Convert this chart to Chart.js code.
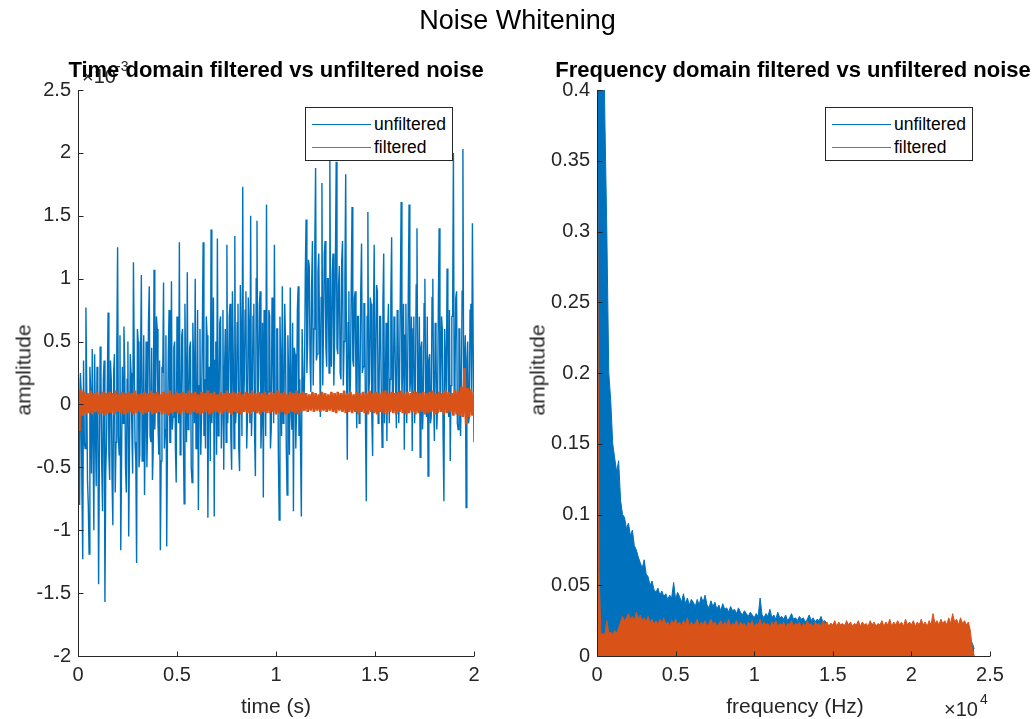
<!DOCTYPE html>
<html lang="en">
<head>
<meta charset="UTF-8">
<title>Noise Whitening</title>
<script src="https://cdn.jsdelivr.net/npm/chart.js"></script>
<style>
  body { margin: 0; background: #fff; font-family: 'Liberation Sans', Arial, sans-serif; }
  #wrap { position: relative; width: 1035px; height: 719px; overflow: hidden; background: #fff; }
  canvas { position: absolute; left: 0; top: 0; }
  .txt { position: absolute; white-space: nowrap; line-height: 1; color: #262626; }
  .ttl { position: absolute; white-space: nowrap; line-height: 1; color: #000; font-weight: bold; font-size: 22px; transform: translateX(-50%); }
  .ylab { position: absolute; white-space: nowrap; line-height: 1; color: #262626; font-size: 21px; transform: translate(-50%, -50%) rotate(-90deg); }
  .xlab { position: absolute; white-space: nowrap; line-height: 1; color: #262626; font-size: 21px; transform: translateX(-50%); }
  .legend { position: absolute; width: 148px; height: 54px; border: 1px solid #262626; box-sizing: border-box; background: #fff; }
  .legend .ln { position: absolute; left: 6px; width: 59px; height: 0; border-top: 1.5px solid; }
  .legend .lt { position: absolute; left: 68px; font-size: 17.5px; line-height: 20px; color: #000; }
</style>
</head>
<body>
<div id="wrap">
  <canvas id="timeChart" width="1035" height="719"></canvas>
  <canvas id="freqChart" width="1035" height="719"></canvas>

  <div class="txt" style="left:0;width:1035px;text-align:center;top:7px;font-size:27px;color:#000;">Noise Whitening</div>

  <!-- exponent labels (drawn under the subplot title) -->
  <div class="txt" style="left:82px;top:66px;font-size:20px;">&times;10</div>
  <div class="txt" style="left:116px;top:59px;font-size:14px;">-3</div>
  <div class="txt" style="left:944px;top:699px;font-size:20px;">&times;10</div>
  <div class="txt" style="left:980px;top:692px;font-size:14px;">4</div>

  <div class="ttl" style="left:276px;top:59px;">Time domain filtered vs unfiltered noise</div>
  <div class="ttl" style="left:793px;top:59px;">Frequency domain filtered vs unfiltered noise</div>

  <div class="ylab" style="left:23px;top:370px;">amplitude</div>
  <div class="ylab" style="left:537px;top:370px;">amplitude</div>
  <div class="xlab" style="left:276px;top:695px;">time (s)</div>
  <div class="xlab" style="left:795px;top:695px;">frequency (Hz)</div>

  <div class="legend" style="left:305px;top:107px;">
    <div class="ln" style="top:16px;border-color:#0072BD;"></div>
    <div class="lt" style="top:6px;">unfiltered</div>
    <div class="ln" style="top:39px;border-color:#D95319;"></div>
    <div class="lt" style="top:29px;">filtered</div>
  </div>
  <div class="legend" style="left:825px;top:107px;">
    <div class="ln" style="top:16px;border-color:#0072BD;"></div>
    <div class="lt" style="top:6px;">unfiltered</div>
    <div class="ln" style="top:39px;border-color:#D95319;"></div>
    <div class="lt" style="top:29px;">filtered</div>
  </div>
</div>

<script>
  // sampling grids
  const timeStep = 0.008;   // s between samples of the main series
  const freqStep = 125;     // Hz between bins

  // time domain, amplitude in units of 1e-3 (peaks / troughs)
  const unfilteredTime = [
    -0.2,-0.8,0.1,-1.23,-0.3,0.77,-0.6,-1.19,0.1,0.44,-1.0,-0.2,0.3,-1.43,0.46,-0.5,0.2,-1.57,-0.3,0.73,
    -0.6,0.2,-0.96,0.4,-0.3,1.25,-0.4,-1.16,0.3,0.62,-0.5,0.2,-1.05,0.4,-0.2,1.13,-0.3,-1.26,0.5,-0.4,
    1.03,-0.2,-0.72,0.5,-0.1,0.94,-0.3,-0.6,1.07,0.1,0.6,-0.4,-1.16,0.3,0.97,-0.2,-1.13,0.4,-0.3,0.98,
    -0.1,0.5,-0.62,0.3,1.29,-0.2,0.6,-0.79,0.2,1.05,-0.1,0.5,-0.62,0.3,1.0,-0.2,-0.84,0.6,-0.1,1.29,
    0.2,0.7,-0.9,0.3,1.39,0.1,-0.89,0.5,1.32,-0.1,0.7,0.0,-0.52,0.6,1.27,0.1,0.8,-0.52,0.4,1.34,
    0.0,0.8,-0.53,0.5,1.73,0.2,0.9,-0.1,0.6,1.5,0.0,0.8,-0.57,1.46,0.2,0.9,-0.1,-0.74,0.5,1.59,
    0.1,0.7,-0.2,0.5,1.27,0.0,0.6,-0.92,0.3,0.94,-0.1,0.5,-0.72,0.2,0.93,-0.2,-0.85,0.4,0.0,0.94,
    0.2,-0.89,0.6,0.2,1.47,0.5,1.1,0.1,1.3,0.6,1.88,0.4,1.2,-0.1,1.76,0.6,1.3,0.3,1.0,1.95,
    0.3,1.2,0.5,1.93,0.4,1.1,0.2,1.3,0.5,1.83,-0.44,0.9,0.2,1.57,0.3,0.9,-0.19,0.7,0.1,1.28,
    0.3,0.8,-0.77,1.53,0.2,0.8,-0.41,1.27,0.3,0.9,0.0,0.7,-0.34,1.2,0.1,-0.29,0.8,0.2,1.33,0.0,
    0.6,-0.19,0.7,0.2,1.61,0.3,-0.36,0.8,0.1,1.59,0.2,-0.37,0.7,0.1,1.4,0.0,-0.42,0.5,0.0,1.0,
    -0.1,-0.57,0.4,-0.1,1.0,-0.29,0.5,0.0,1.4,0.1,0.6,-0.77,0.3,1.08,-0.1,-0.45,0.7,2.0,0.2,0.9,
    -0.2,0.6,0.1,2.03,0.3,-0.82,0.5,-0.1,0.8,1.44,-0.3
  ];
  // samples halfway between the ones above (the dense core of the band)
  const unfilteredTimeMid = [
    -0.45,0.25,-0.7,0.35,-0.35,0.15,-0.8,0.3,-0.55,-0.25,0.4,-0.65,0.05,-0.45,0.2,-0.85,0.35,-0.55,0.15,-0.4,
    0.35,-0.6,0.25,-0.7,0.45,-0.25,0.55,-0.45,-0.15,0.3,-0.7,0.5,-0.35,0.25,-0.55,0.4,-0.45,0.6,-0.5,0.35,
    -0.45,0.55,-0.15,-0.5,0.65,-0.25,0.45,-0.35,-0.2,0.7,-0.15,0.35,-0.45,0.25,-0.35,0.55,-0.25,0.75,-0.3,-0.2,
    0.45,-0.35,0.7,-0.15,-0.4,0.55,-0.25,0.8,-0.3,-0.2,0.45,-0.5,0.65,-0.15,-0.35,0.75,0.15,-0.4,0.6,-0.25,
    -0.35,0.55,0.25,-0.45,-0.15,0.85,0.35,-0.4,-0.25,0.65,-0.35,0.75,0.25,-0.3,-0.15,0.7,-0.25,0.9,-0.35,-0.15,
    0.65,-0.35,0.95,-0.25,-0.05,0.75,-0.35,0.85,-0.15,-0.25,0.7,-0.25,1.0,-0.05,0.8,-0.35,0.65,0.75,-0.25,-0.05,
    0.75,-0.35,0.85,-0.15,-0.05,0.6,-0.4,0.7,-0.25,-0.15,0.8,-0.35,0.55,-0.4,-0.05,0.65,0.45,-0.35,0.75,-0.25,
    -0.35,0.6,-0.05,1.05,0.25,1.15,0.35,0.95,0.15,1.25,0.35,1.05,0.55,0.85,0.15,1.2,0.45,1.0,0.25,0.55,
    1.05,0.15,1.1,0.45,0.95,0.25,1.15,0.15,1.0,0.35,0.65,-0.05,0.95,0.35,0.85,0.15,0.7,-0.15,0.9,0.25,
    0.8,-0.15,0.7,0.05,0.85,-0.1,0.65,-0.05,0.95,-0.15,0.7,0.05,0.8,-0.15,0.65,0.55,-0.15,0.85,0.05,0.7,
    0.15,0.75,-0.15,0.9,0.05,0.8,0.55,-0.15,0.85,0.1,0.7,0.6,-0.15,0.95,0.05,0.7,0.45,-0.2,0.8,0.05,
    0.7,0.35,-0.15,0.85,0.05,0.65,-0.2,0.8,0.05,0.7,-0.25,0.6,0.05,0.55,0.75,0.15,0.7,0.05,0.85,-0.15,
    0.6,-0.25,0.9,0.05,0.55,0.35,-0.15,0.75,0.05,0.45
  ];
  const filteredTime = [
    0.21,-0.21,0.12,-0.09,0.1,-0.08,0.09,-0.07,0.11,-0.08,0.09,-0.06,0.1,-0.08,0.08,-0.07,0.1,-0.09,0.09,-0.07,
    0.1,-0.07,0.09,-0.08,0.11,-0.06,0.08,-0.07,0.1,-0.08,0.09,-0.07,0.1,-0.06,0.09,-0.08,0.11,-0.07,0.08,-0.06,
    0.09,-0.08,0.1,-0.07,0.09,-0.06,0.11,-0.08,0.09,-0.07,0.1,-0.06,0.08,-0.08,0.1,-0.07,0.09,-0.09,0.11,-0.07,
    0.08,-0.06,0.1,-0.07,0.09,-0.08,0.1,-0.06,0.09,-0.07,0.11,-0.08,0.09,-0.06,0.1,-0.07,0.08,-0.08,0.1,-0.07,
    0.09,-0.06,0.11,-0.08,0.09,-0.07,0.1,-0.06,0.08,-0.07,0.1,-0.08,0.09,-0.06,0.11,-0.07,0.09,-0.08,0.1,-0.06,
    0.09,-0.07,0.1,-0.08,0.08,-0.06,0.1,-0.07,0.09,-0.08,0.11,-0.06,0.09,-0.07,0.1,-0.08,0.09,-0.06,0.1,-0.07,
    0.08,-0.07,0.1,-0.06,0.09,-0.08,0.11,-0.07,0.09,-0.06,0.1,-0.08,0.08,-0.07,0.1,-0.06,0.09,-0.07,0.11,-0.08,
    0.09,-0.06,0.1,-0.05,0.09,-0.06,0.08,-0.05,0.1,-0.06,0.09,-0.05,0.08,-0.06,0.1,-0.05,0.09,-0.06,0.08,-0.05,
    0.1,-0.06,0.09,-0.07,0.1,-0.05,0.09,-0.06,0.11,-0.07,0.09,-0.06,0.1,-0.07,0.08,-0.06,0.1,-0.08,0.09,-0.06,
    0.1,-0.07,0.09,-0.08,0.11,-0.06,0.09,-0.07,0.1,-0.08,0.09,-0.06,0.1,-0.07,0.11,-0.08,0.09,-0.06,0.1,-0.07,
    0.09,-0.08,0.1,-0.06,0.11,-0.07,0.09,-0.08,0.1,-0.07,0.09,-0.06,0.11,-0.08,0.1,-0.07,0.09,-0.06,0.1,-0.08,
    0.09,-0.07,0.1,-0.06,0.11,-0.08,0.09,-0.07,0.1,-0.06,0.09,-0.08,0.11,-0.07,0.1,-0.06,0.09,-0.09,0.12,-0.08,
    0.1,-0.09,0.14,-0.1,0.29,-0.16,0.13,-0.1,0.12,-0.09,0.1
  ];

  // frequency domain magnitude
  const unfilteredSpectrum = [
    0.46,0.5,0.42,0.48,0.38,0.3,0.2,0.18,0.15,0.14,
    0.13,0.138,0.11,0.1,0.098,0.09,0.094,0.085,0.089,0.078,
    0.075,0.07,0.066,0.062,0.068,0.058,0.056,0.05,0.053,0.047,
    0.045,0.048,0.043,0.046,0.042,0.044,0.04,0.043,0.041,0.052,
    0.04,0.045,0.042,0.038,0.044,0.037,0.041,0.036,0.04,0.038,
    0.035,0.04,0.036,0.042,0.038,0.043,0.036,0.034,0.039,0.035,
    0.038,0.033,0.036,0.032,0.037,0.033,0.034,0.031,0.035,0.032,
    0.033,0.03,0.034,0.031,0.029,0.032,0.03,0.028,0.031,0.029,
    0.027,0.03,0.028,0.041,0.029,0.027,0.03,0.028,0.033,0.027,
    0.029,0.026,0.031,0.027,0.028,0.026,0.029,0.025,0.027,0.03,
    0.026,0.027,0.025,0.028,0.026,0.027,0.024,0.026,0.029,0.025,
    0.027,0.024,0.026,0.025,0.028,0.024,0.025,0.022,0.021,0.023,
    0.021,0.022,0.02,0.023,0.021,0.02,0.022,0.021,0.02,0.021,
    0.02,0.021,0.019,0.02,0.021,0.019,0.02,0.021,0.019,0.02,
    0.02,0.019,0.021,0.02,0.019,0.02,0.021,0.019,0.02,0.019,
    0.021,0.02,0.019,0.02,0.021,0.019,0.02,0.019,0.021,0.02,
    0.019,0.02,0.021,0.019,0.02,0.019,0.021,0.02,0.019,0.02,
    0.021,0.019,0.02,0.019,0.021,0.02,0.019,0.02,0.021,0.019,
    0.02,0.019,0.021,0.02,0.019,0.02,0.021,0.019,0.02,0.018,
    0.012,0.009,0.005
  ];
  const filteredSpectrum = [
    0.45,0.06,0.015,0.016,0.015,0.025,0.016,0.017,0.015,0.018,
    0.016,0.02,0.024,0.028,0.025,0.027,0.03,0.026,0.028,0.025,
    0.031,0.026,0.029,0.025,0.027,0.024,0.028,0.023,0.026,0.022,
    0.025,0.022,0.026,0.023,0.027,0.022,0.024,0.021,0.025,0.023,
    0.026,0.022,0.024,0.021,0.025,0.022,0.027,0.021,0.024,0.022,
    0.023,0.026,0.021,0.024,0.022,0.025,0.021,0.023,0.026,0.022,
    0.024,0.021,0.023,0.025,0.021,0.024,0.022,0.026,0.021,0.023,
    0.022,0.025,0.021,0.024,0.022,0.023,0.020,0.024,0.022,0.025,
    0.021,0.023,0.022,0.026,0.021,0.024,0.022,0.023,0.020,0.024,
    0.022,0.025,0.021,0.023,0.022,0.024,0.020,0.023,0.022,0.025,
    0.021,0.023,0.022,0.024,0.020,0.023,0.021,0.025,0.022,0.023,
    0.020,0.024,0.022,0.023,0.021,0.025,0.022,0.024,0.021,0.023,
    0.022,0.025,0.021,0.024,0.022,0.023,0.021,0.025,0.022,0.024,
    0.021,0.023,0.022,0.025,0.021,0.024,0.022,0.023,0.021,0.025,
    0.022,0.024,0.021,0.023,0.022,0.025,0.021,0.024,0.022,0.026,
    0.021,0.024,0.022,0.025,0.022,0.024,0.021,0.026,0.022,0.024,
    0.022,0.025,0.021,0.024,0.022,0.026,0.022,0.024,0.021,0.025,
    0.022,0.030,0.023,0.025,0.022,0.026,0.023,0.025,0.022,0.027,
    0.023,0.030,0.024,0.026,0.022,0.027,0.023,0.025,0.022,0.024,
    0.018,0.005,0
  ];

  // tick values
  const timeTicks = [0, 0.5, 1, 1.5, 2];
  const timeAmpTicks = [-2, -1.5, -1, -0.5, 0, 0.5, 1, 1.5, 2, 2.5];
  const freqTicks = [0, 5000, 10000, 15000, 20000, 25000];
  const freqAmpTicks = [0, 0.05, 0.1, 0.15, 0.2, 0.25, 0.3, 0.35, 0.4];

  const BLUE = '#0072BD';
  const ORANGE = '#D95319';
  const AXIS = '#262626';
  const tickFont = { family: "'Liberation Sans', Arial, sans-serif", size: 20 };

  const toPoints = (vals, step) => vals.map((v, i) => ({ x: i * step, y: v }));
  const fmt = v => String(+v.toFixed(3));

  // merge main samples with the in-between samples
  function interleave(main, mid, step) {
    const pts = [];
    main.forEach((v, i) => {
      pts.push({ x: i * step, y: v });
      if (i < mid.length) pts.push({ x: (i + 0.5) * step, y: mid[i] });
    });
    return pts;
  }

  // MATLAB style axes: left + bottom lines, ticks pointing inward
  const matlabAxes = {
    id: 'matlabAxes',
    afterDatasetsDraw(chart) {
      const { ctx, chartArea: a, scales } = chart;
      ctx.save();
      ctx.strokeStyle = AXIS;
      ctx.lineWidth = 1;
      ctx.beginPath();
      const l = Math.round(a.left) + 0.5, b = Math.round(a.bottom) + 0.5;
      ctx.moveTo(l, a.top);
      ctx.lineTo(l, b);
      ctx.lineTo(a.right, b);
      scales.x.ticks.forEach(t => {
        const px = Math.round(scales.x.getPixelForValue(t.value)) + 0.5;
        ctx.moveTo(px, b);
        ctx.lineTo(px, b - 5);
      });
      scales.y.ticks.forEach(t => {
        const py = Math.round(scales.y.getPixelForValue(t.value)) + 0.5;
        ctx.moveTo(l, py);
        ctx.lineTo(l + 5, py);
      });
      ctx.stroke();
      ctx.restore();
    }
  };

  function axisOpts(min, max, tickVals, fixed, fmtFn) {
    return {
      type: 'linear',
      min: min,
      max: max,
      afterBuildTicks: s => { s.ticks = tickVals.map(v => ({ value: v })); },
      afterFit: s => { if (s.isHorizontal()) s.height = fixed; else s.width = fixed; },
      grid: { display: false, drawTicks: false },
      border: { display: false },
      ticks: { color: AXIS, font: tickFont, padding: 7, autoSkip: false, maxRotation: 0, callback: fmtFn }
    };
  }

  const common = {
    responsive: false,
    animation: false,
    events: [],
    plugins: { legend: { display: false }, tooltip: { enabled: false } },
    elements: { point: { radius: 0 }, line: { tension: 0 } }
  };

  new Chart(document.getElementById('timeChart'), {
    type: 'line',
    data: {
      datasets: [
        { label: 'unfiltered', data: interleave(unfilteredTime, unfilteredTimeMid, timeStep), borderColor: BLUE, borderWidth: 1.4, order: 2 },
        { label: 'filtered', data: toPoints(filteredTime, timeStep), borderColor: ORANGE, borderWidth: 2.6, order: 1 }
      ]
    },
    options: Object.assign({}, common, {
      layout: { padding: { left: 0, top: 90, right: 561, bottom: 0 } },
      scales: {
        x: axisOpts(0, 2, timeTicks, 63, v => fmt(v)),
        y: axisOpts(-2, 2.5, timeAmpTicks, 78, v => fmt(v))
      }
    }),
    plugins: [matlabAxes]
  });

  new Chart(document.getElementById('freqChart'), {
    type: 'line',
    data: {
      datasets: [
        { label: 'unfiltered', data: toPoints(unfilteredSpectrum, freqStep), borderColor: BLUE, backgroundColor: BLUE, fill: 'origin', borderWidth: 1, order: 2, clip: 0 },
        { label: 'filtered', data: toPoints(filteredSpectrum, freqStep), borderColor: ORANGE, backgroundColor: ORANGE, fill: 'origin', borderWidth: 1, order: 1, clip: 0 }
      ]
    },
    options: Object.assign({}, common, {
      layout: { padding: { left: 517, top: 90, right: 45, bottom: 0 } },
      scales: {
        x: axisOpts(0, 25000, freqTicks, 63, v => fmt(v / 10000)),
        y: axisOpts(0, 0.4, freqAmpTicks, 80, v => fmt(v))
      }
    }),
    plugins: [matlabAxes]
  });
</script>
</body>
</html>
